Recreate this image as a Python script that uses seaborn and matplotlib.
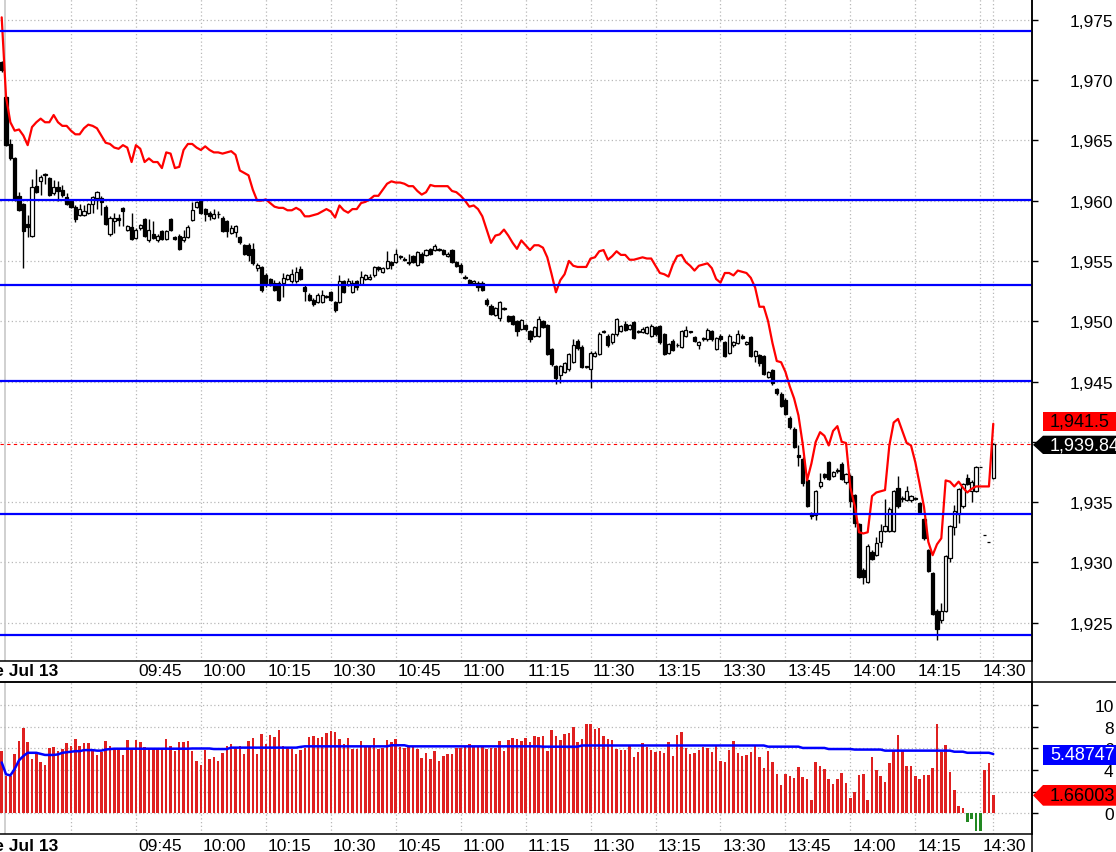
import matplotlib
matplotlib.use("Agg")
import matplotlib.pyplot as plt
import matplotlib.transforms as mtransforms
from matplotlib.patches import Polygon
from matplotlib.lines import Line2D
import numpy as np
import pandas as pd
import seaborn as sns

# ---- data (1-minute bars) ----
open_px = [
    1971.5, 1968.6, 1964.7, 1963.5, 1960.4, 1959.7, 1958.1, 1957.1, 1961.2, 1961.6,
    1962.1, 1961.9, 1960.6, 1961.1, 1960.9, 1960.3, 1960.0, 1959.5, 1958.8, 1958.8,
    1959.0, 1959.7, 1960.2, 1960.2, 1959.5, 1957.2, 1958.3, 1958.6, 1959.4, 1957.6,
    1957.8, 1956.9, 1957.7, 1958.5, 1956.7, 1957.2, 1956.7, 1957.5, 1956.8, 1958.5,
    1957.0, 1957.1, 1956.7, 1957.0, 1958.4, 1959.5, 1960.0, 1959.3, 1959.0, 1958.6,
    1958.9, 1958.6, 1958.3, 1957.3, 1957.4, 1957.0, 1956.3, 1956.3, 1956.0, 1954.4,
    1954.5, 1953.8, 1953.5, 1953.2, 1953.2, 1953.2, 1953.5, 1953.3, 1953.3, 1954.3,
    1952.8, 1952.2, 1951.8, 1951.6, 1951.6, 1952.1, 1952.4, 1951.6, 1951.6, 1953.3,
    1953.0, 1952.4, 1953.3, 1953.1, 1953.5, 1953.5, 1953.8, 1954.5, 1954.1, 1954.4,
    1954.9, 1954.9, 1955.4, 1955.2, 1954.9, 1955.4, 1954.7, 1955.6, 1955.5, 1956.0,
    1955.9, 1956.0, 1955.9, 1955.4, 1955.9, 1954.9, 1954.7, 1953.7, 1953.4, 1953.2,
    1953.2, 1953.2, 1951.8, 1951.3, 1950.5, 1950.3, 1951.0, 1950.4, 1950.4, 1950.0,
    1949.35, 1949.7, 1949.2, 1948.8, 1948.8, 1950.0, 1949.7, 1947.7, 1946.3, 1945.5,
    1945.8, 1946.0, 1946.6, 1948.4, 1947.9, 1946.2, 1946.0, 1947.1, 1947.3, 1949.1,
    1948.8, 1948.25, 1948.9, 1949.2, 1949.8, 1949.35, 1949.9, 1949.2, 1949.1, 1949.0,
    1948.8, 1949.5, 1949.6, 1948.9, 1947.4, 1948.4, 1948.0, 1947.9, 1948.8, 1949.1,
    1948.7, 1948.0, 1948.65, 1948.5, 1949.2, 1947.7, 1948.8, 1948.3, 1947.4, 1948.0,
    1948.2, 1948.8, 1948.1, 1948.7, 1947.1, 1947.2, 1947.1, 1945.4, 1945.95, 1944.4,
    1944.0, 1943.5, 1942.0, 1941.1, 1938.9, 1938.6, 1936.8, 1934.0, 1933.9, 1936.3,
    1937.3, 1938.3, 1937.2, 1937.55, 1938.2, 1936.65, 1937.2, 1935.6, 1933.2, 1929.4,
    1928.4, 1930.9, 1930.6, 1931.7, 1932.6, 1932.6, 1932.6, 1936.15, 1935.3, 1935.2,
    1935.2, 1935.3, 1934.9, 1933.6, 1931.0, 1929.1, 1926.0, 1925.2, 1926.0, 1930.4,
    1932.9, 1934.0, 1934.7, 1937.0, 1935.9, 1935.9, 1937.9, 1932.3, 1931.7, 1937.0,
]
close_px = [
    1970.8, 1964.6, 1963.5, 1960.1, 1959.2, 1957.5, 1957.8, 1961.1, 1960.7, 1962.0,
    1962.2, 1960.5, 1961.1, 1960.8, 1960.5, 1959.7, 1959.5, 1958.5, 1959.3, 1959.1,
    1959.7, 1960.3, 1960.7, 1959.9, 1958.1, 1958.6, 1958.6, 1958.4, 1959.1, 1957.9,
    1956.8, 1957.6, 1958.0, 1957.1, 1957.6, 1956.9, 1957.1, 1956.8, 1957.5, 1957.6,
    1956.8, 1956.0, 1957.0, 1957.8, 1959.2, 1959.9, 1959.0, 1958.9, 1958.7, 1958.9,
    1958.9, 1957.5, 1957.5, 1957.7, 1957.9, 1956.6, 1955.6, 1955.5, 1954.8, 1954.7,
    1952.6, 1953.1, 1953.0, 1952.6, 1951.8, 1953.6, 1953.8, 1953.9, 1954.1, 1953.5,
    1952.5, 1951.8, 1951.4, 1952.2, 1952.2, 1952.0, 1951.8, 1950.9, 1953.3, 1952.4,
    1953.3, 1953.2, 1952.8, 1953.7, 1953.8, 1953.7, 1954.5, 1954.3, 1954.4, 1955.0,
    1954.7, 1955.6, 1955.3, 1955.1, 1954.8, 1954.9, 1955.7, 1954.9, 1955.9, 1955.6,
    1956.2, 1955.9, 1955.6, 1955.6, 1954.9, 1954.6, 1954.1, 1953.6, 1953.1, 1953.3,
    1952.8, 1952.6, 1951.4, 1950.6, 1951.1, 1951.6, 1951.1, 1950.0, 1949.8, 1949.2,
    1950.1, 1949.35, 1948.5, 1949.5, 1950.2, 1949.5, 1947.3, 1946.45, 1945.3, 1946.3,
    1946.5, 1947.3, 1948.05, 1947.75, 1946.2, 1946.25, 1947.4, 1947.4, 1948.9, 1949.15,
    1948.0, 1948.9, 1950.2, 1949.6, 1949.3, 1949.7, 1948.6, 1949.1, 1949.35, 1949.5,
    1949.6, 1948.9, 1948.25, 1947.3, 1948.1, 1947.6, 1948.05, 1949.2, 1949.3, 1949.15,
    1948.4, 1948.3, 1948.5, 1949.3, 1948.5, 1948.65, 1948.5, 1947.1, 1948.8, 1948.3,
    1948.9, 1948.6, 1948.3, 1947.1, 1947.5, 1946.5, 1945.6, 1945.8, 1944.85, 1944.05,
    1943.0, 1942.3, 1941.2, 1939.6, 1938.75, 1936.6, 1934.7, 1933.85, 1935.9, 1936.7,
    1937.1, 1936.9, 1937.5, 1937.7, 1936.9, 1937.3, 1935.1, 1933.3, 1928.8, 1928.8,
    1931.4, 1930.3, 1931.6, 1932.6, 1933.05, 1934.4, 1935.9, 1934.7, 1935.35, 1935.9,
    1935.5, 1935.35, 1934.2, 1932.0, 1929.3, 1925.7, 1924.5, 1926.0, 1930.5, 1933.0,
    1934.3, 1936.1, 1936.5, 1936.5, 1936.65, 1937.9, 1937.9, 1932.3, 1931.7, 1939.84,
]
high_px = [
    1971.6, 1968.7, 1965.1, 1963.6, 1960.7, 1959.8, 1958.8, 1961.8, 1962.6, 1962.1,
    1962.3, 1962.0, 1961.7, 1961.6, 1961.3, 1960.6, 1960.1, 1959.6, 1959.7, 1959.6,
    1959.8, 1960.4, 1960.8, 1960.4, 1959.6, 1958.7, 1959.0, 1958.9, 1959.5, 1958.0,
    1959.0, 1957.7, 1958.1, 1958.6, 1958.5, 1958.3, 1957.2, 1957.6, 1957.6, 1958.6,
    1957.1, 1957.2, 1957.6, 1958.0, 1959.9, 1960.0, 1960.1, 1959.4, 1959.1, 1959.3,
    1959.1, 1958.7, 1958.4, 1958.0, 1958.0, 1957.1, 1956.4, 1956.5, 1956.5, 1954.8,
    1954.6, 1954.0, 1953.6, 1953.4, 1953.3, 1954.0, 1953.9, 1954.3, 1954.5, 1954.6,
    1953.1, 1952.3, 1951.9, 1952.3, 1952.6, 1952.2, 1952.5, 1951.7, 1953.8, 1953.4,
    1953.6, 1953.4, 1953.4, 1954.2, 1953.9, 1953.9, 1954.6, 1954.6, 1954.5, 1955.8,
    1955.0, 1956.0, 1955.5, 1955.3, 1955.6, 1955.5, 1955.8, 1955.7, 1956.0, 1956.1,
    1956.4, 1956.1, 1956.0, 1955.7, 1956.0, 1955.0, 1954.8, 1953.8, 1953.5, 1953.4,
    1953.3, 1953.3, 1951.9, 1951.4, 1951.2, 1951.7, 1951.2, 1950.5, 1950.5, 1950.1,
    1950.2, 1949.8, 1949.3, 1949.6, 1950.4, 1950.1, 1949.8, 1947.8, 1946.4, 1946.4,
    1946.6, 1947.4, 1948.5, 1948.5, 1948.0, 1946.3, 1947.5, 1947.5, 1949.1, 1949.3,
    1948.9, 1949.0, 1950.3, 1949.7, 1950.0, 1949.8, 1950.0, 1949.3, 1949.5, 1949.6,
    1949.8, 1949.6, 1949.7, 1949.0, 1948.2, 1948.5, 1948.2, 1949.3, 1949.6, 1949.2,
    1948.8, 1948.4, 1948.7, 1949.4, 1949.3, 1948.7, 1948.9, 1948.4, 1948.9, 1948.4,
    1949.3, 1948.9, 1948.4, 1948.8, 1947.6, 1947.3, 1947.2, 1945.9, 1946.0, 1944.5,
    1944.1, 1943.6, 1942.1, 1941.2, 1939.7, 1938.7, 1936.9, 1934.2, 1936.0, 1937.4,
    1937.4, 1938.4, 1937.6, 1937.8, 1938.3, 1937.4, 1937.3, 1935.7, 1933.3, 1929.5,
    1931.5, 1931.0, 1932.1, 1933.2, 1935.3, 1934.6, 1936.0, 1937.2, 1935.5, 1936.3,
    1935.6, 1935.4, 1935.0, 1933.7, 1931.1, 1929.2, 1926.1, 1926.6, 1930.6, 1933.1,
    1934.8, 1936.2, 1936.6, 1937.3, 1936.8, 1938.0, 1937.9, 1932.3, 1931.7, 1939.9,
]
low_px = [
    1970.7, 1964.5, 1963.4, 1960.0, 1959.1, 1954.4, 1957.0, 1957.0, 1960.6, 1960.5,
    1961.4, 1960.4, 1960.5, 1960.0, 1960.3, 1959.6, 1959.4, 1958.2, 1958.7, 1958.7,
    1958.9, 1959.0, 1959.3, 1958.8, 1958.0, 1957.1, 1957.3, 1957.9, 1957.9, 1957.5,
    1956.7, 1956.8, 1957.6, 1957.0, 1956.6, 1956.8, 1956.6, 1956.7, 1956.7, 1957.5,
    1956.7, 1955.9, 1956.6, 1956.9, 1958.3, 1959.4, 1958.9, 1958.3, 1958.4, 1958.5,
    1958.6, 1957.4, 1957.0, 1957.2, 1957.0, 1956.4, 1955.5, 1955.0, 1954.7, 1954.2,
    1952.4, 1952.8, 1952.9, 1952.5, 1951.7, 1952.0, 1953.4, 1953.2, 1953.2, 1953.4,
    1951.7, 1951.7, 1951.3, 1951.5, 1951.5, 1951.9, 1951.7, 1950.8, 1951.5, 1952.3,
    1952.9, 1952.3, 1952.6, 1953.0, 1953.4, 1953.4, 1953.7, 1954.2, 1954.0, 1954.3,
    1954.3, 1954.8, 1955.2, 1955.0, 1954.7, 1954.8, 1954.6, 1954.8, 1955.4, 1955.5,
    1955.8, 1955.8, 1955.5, 1955.3, 1954.8, 1954.5, 1954.0, 1953.5, 1953.0, 1953.1,
    1952.5, 1952.5, 1951.3, 1950.5, 1950.4, 1950.0, 1950.9, 1949.9, 1949.7, 1948.8,
    1949.3, 1949.2, 1948.25, 1948.7, 1948.7, 1949.4, 1947.2, 1946.3, 1944.8, 1944.9,
    1945.7, 1945.9, 1946.5, 1947.6, 1946.1, 1946.1, 1944.5, 1947.0, 1947.2, 1949.0,
    1947.9, 1948.1, 1948.8, 1949.1, 1949.2, 1949.3, 1948.5, 1949.0, 1949.0, 1948.9,
    1948.7, 1948.8, 1948.1, 1947.2, 1947.3, 1947.5, 1947.9, 1947.8, 1948.7, 1949.0,
    1948.3, 1947.7, 1948.4, 1948.4, 1948.4, 1947.6, 1948.4, 1947.0, 1947.3, 1947.9,
    1948.1, 1948.5, 1948.0, 1947.0, 1946.6, 1946.3, 1945.5, 1945.3, 1944.7, 1943.9,
    1942.9, 1942.2, 1941.1, 1939.5, 1938.0, 1936.3, 1934.6, 1933.6, 1933.5, 1936.2,
    1936.9, 1936.8, 1937.1, 1937.4, 1936.8, 1936.5, 1934.6, 1932.9, 1928.7, 1928.2,
    1928.3, 1930.2, 1930.5, 1931.3, 1932.5, 1932.5, 1932.5, 1934.5, 1935.0, 1935.1,
    1935.0, 1935.2, 1934.1, 1931.9, 1929.2, 1925.6, 1923.6, 1925.0, 1925.9, 1930.0,
    1932.3, 1933.3, 1934.5, 1936.4, 1935.0, 1935.8, 1937.9, 1932.3, 1931.7, 1936.9,
]
ma_line = [
    1975.2, 1968.6, 1966.5, 1965.8, 1965.9, 1965.4, 1964.6, 1966.1, 1966.5, 1966.8,
    1966.5, 1966.5, 1967.1, 1966.5, 1966.2, 1966.2, 1965.8, 1965.5, 1965.5, 1966.0,
    1966.3, 1966.2, 1966.0, 1965.4, 1964.8, 1964.7, 1964.4, 1964.3, 1964.6, 1964.4,
    1963.2, 1964.6, 1964.3, 1963.2, 1963.5, 1963.2, 1963.2, 1962.7, 1964.0, 1963.9,
    1962.7, 1962.8, 1964.2, 1964.7, 1964.7, 1964.4, 1964.2, 1964.5, 1964.2, 1964.0,
    1964.0, 1963.9, 1964.0, 1964.1, 1963.8, 1962.5, 1962.3, 1962.1, 1960.9, 1960.0,
    1960.0, 1960.1, 1959.8, 1959.5, 1959.4, 1959.4, 1959.2, 1959.2, 1959.4, 1959.2,
    1958.7, 1958.7, 1958.8, 1958.9, 1959.1, 1959.3, 1959.1, 1958.6, 1959.6, 1959.2,
    1959.0, 1959.3, 1959.3, 1959.8, 1959.9, 1960.1, 1960.4, 1960.4, 1960.9, 1961.4,
    1961.6, 1961.5, 1961.5, 1961.4, 1961.2, 1961.2, 1960.8, 1960.5, 1960.7, 1961.3,
    1961.2, 1961.2, 1961.2, 1961.2, 1960.8, 1960.7, 1960.4, 1960.0, 1959.5, 1959.6,
    1959.3, 1958.7, 1957.6, 1956.5, 1957.1, 1957.2, 1957.6, 1957.1, 1956.5, 1956.0,
    1956.7, 1956.3, 1955.9, 1956.3, 1956.3, 1956.1, 1955.3, 1953.9, 1952.4, 1953.4,
    1953.9, 1955.0, 1954.6, 1954.5, 1954.5, 1954.5, 1955.2, 1955.3, 1955.8, 1955.9,
    1955.1, 1955.4, 1955.8, 1955.5, 1955.5, 1955.1, 1955.1, 1955.2, 1955.3, 1955.2,
    1955.2, 1954.6, 1954.0, 1953.9, 1953.7, 1954.7, 1955.4, 1955.5, 1954.9, 1954.6,
    1954.2, 1954.6, 1954.7, 1954.8, 1954.4, 1953.5, 1953.2, 1954.0, 1954.0, 1953.8,
    1954.2, 1954.1, 1954.0, 1953.6, 1952.8, 1951.2, 1951.2, 1950.0, 1948.2, 1946.7,
    1946.6, 1945.8, 1944.6, 1943.6, 1942.2, 1939.8, 1936.8, 1938.2, 1940.0, 1940.8,
    1940.5, 1939.7, 1940.9, 1941.3, 1940.0, 1939.9, 1936.2, 1934.7, 1932.5, 1932.4,
    1932.5, 1935.5, 1935.8, 1935.9, 1936.0, 1939.7, 1941.6, 1941.9, 1940.9, 1939.9,
    1939.7, 1938.3, 1936.5, 1934.6, 1931.7, 1930.6, 1931.5, 1932.0, 1936.8, 1936.7,
    1936.3, 1936.7, 1936.2, 1935.8, 1936.1, 1936.3, 1936.3, 1936.3, 1936.3, 1941.5,
]
vol_bars = [
    5.8, 3.47, 3.47, 5.49, 6.73, 7.91, 6.57, 5.02, 5.58, 4.71,
    4.47, 6.02, 6.11, 5.74, 5.95, 6.48, 6.26, 6.88, 6.2, 6.51,
    6.51, 5.95, 5.4, 5.64, 6.67, 6.2, 5.95, 5.95, 5.4, 6.82,
    5.95, 6.79, 6.57, 6.11, 6.05, 6.05, 6.05, 5.95, 6.88, 6.26,
    5.74, 6.6, 6.6, 6.67, 5.74, 4.81, 4.47, 5.89, 5.02, 5.18,
    4.87, 5.55, 6.2, 6.42, 6.02, 6.2, 5.49, 6.73, 6.95, 5.49,
    7.35, 6.42, 7.29, 7.04, 7.72, 6.26, 6.05, 5.95, 5.49, 5.86,
    6.05, 7.04, 7.13, 6.95, 7.04, 7.44, 7.66, 7.5, 6.88, 6.42,
    6.95, 5.95, 5.95, 6.73, 6.26, 6.26, 6.95, 5.95, 6.05, 6.79,
    6.64, 6.88, 6.17, 6.02, 6.26, 6.2, 5.95, 5.15, 5.58, 5.02,
    5.77, 4.81, 5.33, 5.46, 5.46, 6.08, 6.08, 6.2, 6.39, 6.2,
    6.2, 6.26, 5.95, 6.05, 6.02, 6.73, 5.8, 6.82, 6.95, 6.88,
    6.73, 6.95, 6.64, 7.19, 7.04, 7.19, 5.8, 7.75, 7.13, 6.82,
    7.35, 7.44, 8.03, 6.57, 6.88, 8.28, 8.28, 7.81, 7.94, 7.13,
    6.88, 6.82, 5.95, 5.86, 5.86, 6.36, 5.24, 5.64, 6.48, 6.11,
    5.86, 5.64, 5.8, 5.58, 6.57, 5.33, 7.29, 7.57, 6.08, 5.49,
    5.58, 5.89, 6.17, 6.02, 5.64, 6.26, 4.84, 4.74, 5.89, 6.7,
    5.55, 5.33, 5.4, 5.64, 6.26, 5.18, 4.19, 5.8, 4.71, 3.63,
    2.64, 3.63, 3.41, 3.22, 4.25, 3.32, 3.16, 1.21, 4.71, 4.34,
    4.09, 3.16, 2.7, 3.16, 3.72, 2.79, 1.36, 1.98, 3.53, 3.63,
    1.21, 5.24, 4.0, 3.47, 2.91, 4.62, 5.8, 7.26, 5.8, 4.34,
    4.34, 3.47, 3.16, 3.53, 3.53, 4.19, 8.25, 5.7, 6.33, 3.78,
    2.14, 0.68, 0.47, -0.8, -0.6, -1.65, -1.65, 4.0, 4.65, 1.66,
]
vol_avg = [
    4.7, 3.6, 3.5, 4.1, 4.9, 5.3, 5.6, 5.6, 5.6, 5.5,
    5.4, 5.4, 5.4, 5.45, 5.6, 5.65, 5.7, 5.75, 5.75, 5.85,
    5.85, 5.85, 5.8, 5.8, 5.9, 5.95, 5.98, 5.98, 5.98, 5.98,
    5.98, 5.98, 5.98, 5.98, 5.98, 5.98, 5.98, 5.98, 5.98, 5.98,
    5.98, 5.98, 5.98, 5.98, 6.0, 6.0, 6.0, 6.0, 6.0, 5.95,
    5.95, 5.95, 5.95, 6.08, 6.08, 6.08, 6.08, 6.08, 6.08, 6.08,
    6.08, 6.08, 6.08, 6.08, 6.08, 6.08, 6.08, 6.08, 6.08, 6.15,
    6.2, 6.2, 6.2, 6.2, 6.2, 6.2, 6.2, 6.2, 6.2, 6.2,
    6.2, 6.2, 6.2, 6.2, 6.2, 6.2, 6.2, 6.2, 6.2, 6.2,
    6.3, 6.3, 6.3, 6.3, 6.2, 6.2, 6.2, 6.2, 6.2, 6.2,
    6.2, 6.2, 6.2, 6.2, 6.2, 6.2, 6.2, 6.2, 6.2, 6.2,
    6.2, 6.2, 6.2, 6.2, 6.2, 6.2, 6.2, 6.2, 6.2, 6.2,
    6.2, 6.2, 6.2, 6.2, 6.2, 6.17, 6.17, 6.17, 6.17, 6.17,
    6.17, 6.17, 6.17, 6.17, 6.28, 6.28, 6.28, 6.28, 6.28, 6.28,
    6.28, 6.28, 6.28, 6.28, 6.28, 6.28, 6.28, 6.28, 6.28, 6.28,
    6.28, 6.28, 6.28, 6.28, 6.28, 6.28, 6.28, 6.28, 6.28, 6.28,
    6.28, 6.28, 6.28, 6.28, 6.28, 6.28, 6.28, 6.28, 6.28, 6.28,
    6.28, 6.28, 6.28, 6.28, 6.28, 6.28, 6.28, 6.17, 6.17, 6.17,
    6.17, 6.17, 6.17, 6.17, 6.17, 6.05, 6.05, 6.05, 6.05, 6.05,
    6.05, 5.95, 5.95, 5.95, 5.95, 5.95, 5.95, 5.9, 5.9, 5.9,
    5.9, 5.9, 5.9, 5.9, 5.8, 5.8, 5.8, 5.8, 5.8, 5.8,
    5.8, 5.8, 5.8, 5.8, 5.8, 5.8, 5.8, 5.8, 5.8, 5.8,
    5.7, 5.7, 5.7, 5.6, 5.6, 5.6, 5.6, 5.6, 5.6, 5.48747,
]
levels = [1974.06, 1960.05, 1953.0, 1945.05, 1934.0, 1924.0]
tick_times = ["09:30", "09:45", "10:00", "10:15", "10:30", "10:45", "11:00", "11:15",
              "11:30", "13:15", "13:30", "13:45", "14:00", "14:15", "14:30"]
tick_bars = [16, 31, 46, 61, 76, 91, 106, 121, 136, 151, 166, 181, 196, 211, 226]
price_ticks = [1925, 1930, 1935, 1940, 1945, 1950, 1955, 1960, 1965, 1970, 1975]
osc_ticks = [0, 2, 4, 6, 8, 10]

# ---- figure ----
W, H = 1116, 853
sns.set_style("white", {"axes.edgecolor": "black", "text.color": "black",
                        "xtick.color": "black", "ytick.color": "black"})
plt.rcParams['font.family'] = ['Liberation Sans', 'DejaVu Sans']
FS = 12.5


def fx(px):
    return px / W


def fy(py):
    return 1 - py / H


fig = plt.figure(figsize=(W / 100, H / 100), dpi=100)
ax = fig.add_axes([0, fy(661.7), fx(1032), fy(0) - fy(661.7)])
ax2 = fig.add_axes([0, fy(835), fx(1032), fy(682.7) - fy(835)])

idx = np.arange(len(close_px))
o = np.array(open_px)
c = np.array(close_px)
up = c >= o
grid_kw = dict(color="#b8b8b8", lw=0.9, ls=(0, (1, 2)), zorder=1)
xlim = (-1.7 / 4.33, (1032 - 1.7) / 4.33)

# main panel: grid, candles, red line, blue levels
for p in price_ticks:
    ax.axhline(p, **grid_kw)
for a in (ax, ax2):
    for t in tick_bars + [229]:
        a.axvline(t, **grid_kw)
    a.axvline(0.77, color="#c8c8c8", lw=1.2, zorder=1)

ax.vlines(idx, low_px, high_px, color="black", lw=1.0, zorder=2)
ax.bar(idx[up], (c - o)[up], bottom=o[up], width=0.72, facecolor="white",
       edgecolor="black", linewidth=0.9, zorder=3)
ax.bar(idx[~up], (o - c)[~up], bottom=c[~up], width=0.72, facecolor="black",
       edgecolor="black", linewidth=0.9, zorder=3)
ax.axhline(close_px[-1], color="red", lw=0.8, ls=(0, (3, 3)), zorder=2.5)
sns.lineplot(x=idx, y=ma_line, color="#ff0000", lw=1.6, ax=ax, zorder=4)
for lv in levels:
    ax.axhline(lv, color="#0000ff", lw=1.6, zorder=5)

ax.set_xlim(*xlim)
ax.set_ylim(1921.85, 1976.72)
ax.set_xlabel("")
ax.set_ylabel("")
ax.set_xticks(tick_bars)
ax.set_xticklabels([])
ax.tick_params(axis="x", length=4, width=1, direction="out", labelbottom=False)
ax.yaxis.tick_right()
ax.set_yticks(price_ticks)
ax.set_yticklabels([f"{p:,}" for p in price_ticks])
ax.tick_params(axis="y", length=4, width=1, pad=54.7, labelsize=FS)
plt.setp(ax.get_yticklabels(), ha="right")
for s in ("left", "top"):
    ax.spines[s].set_visible(False)
for s in ("right", "bottom"):
    ax.spines[s].set_linewidth(1.1)

# lower panel
for v in osc_ticks:
    ax2.axhline(v, **grid_kw)
df = pd.DataFrame({"i": idx, "v": vol_bars,
                   "sign": np.where(np.array(vol_bars) >= 0, "up", "down")})
sns.barplot(data=df, x="i", y="v", hue="sign", native_scale=True, width=0.58,
            palette={"up": "#ff0000", "down": "#119911"}, dodge=False,
            errorbar=None, legend=False, linewidth=0, ax=ax2, zorder=3)
sns.lineplot(x=idx, y=vol_avg, color="#0000ff", lw=1.8, ax=ax2, zorder=4)
ax2.set_xlim(*xlim)
ax2.set_ylim(-1.95, 12.21)
ax2.set_xlabel("")
ax2.set_ylabel("")
ax2.set_xticks(tick_bars)
ax2.set_xticklabels([])
ax2.tick_params(axis="x", length=4, width=1, direction="out", labelbottom=False)
ax2.yaxis.tick_right()
ax2.set_yticks(osc_ticks)
ax2.set_yticklabels([str(v) for v in osc_ticks])
ax2.tick_params(axis="y", length=4, width=1, pad=54.7, labelsize=FS)
plt.setp(ax2.get_yticklabels(), ha="right")
ax2.spines["left"].set_visible(False)
for s in ("right", "bottom", "top"):
    ax2.spines[s].set_linewidth(1.1)

# frame lines through the time bands
fig.add_artist(Line2D([fx(1032), fx(1032)], [0, 1], color="black", lw=1.1))
fig.add_artist(Line2D([0, 1], [fy(682.7), fy(682.7)], color="black", lw=1.1))

# time labels
blend = mtransforms.blended_transform_factory(ax.transData, fig.transFigure)
for ypix in (671.5, 847):
    for t, s in zip(tick_bars[1:], tick_times[1:]):
        ax.text(t + 0.5, fy(ypix), s, transform=blend, ha="left", va="center",
                fontsize=FS, clip_on=False)
    fig.text(fx(58), fy(ypix), "Tue Jul 13", ha="right", va="center",
             fontsize=FS, fontweight="bold")


# value tags on the right
def tag(x0, y0, y1, color, text, tcolor, tip=None):
    pts = [(x0, y0), (W, y0), (W, y1), (x0, y1)]
    if tip is not None:
        pts.append((tip, (y0 + y1) / 2))
    pts = [(fx(a), fy(b)) for a, b in pts]
    fig.add_artist(Polygon(pts, closed=True, transform=fig.transFigure,
                           facecolor=color, edgecolor="none", zorder=10))
    fig.text(fx(x0 + 7), fy((y0 + y1) / 2), text, color=tcolor, ha="left",
             va="center", fontsize=13, zorder=11)


tag(1043, 413.3, 431.7, "#ff0000", f"{ma_line[-1]:,.1f}", "black")
tag(1043, 436.7, 455, "black", f"{close_px[-1]:,.2f}", "white", tip=1033)
tag(1043, 746, 766, "#0000ff", f"{vol_avg[-1]:.5f}", "white")
tag(1043, 786, 806.7, "#ff0000", "1.66003", "black", tip=1033)

fig.savefig("out.png", dpi=100, facecolor="white")
